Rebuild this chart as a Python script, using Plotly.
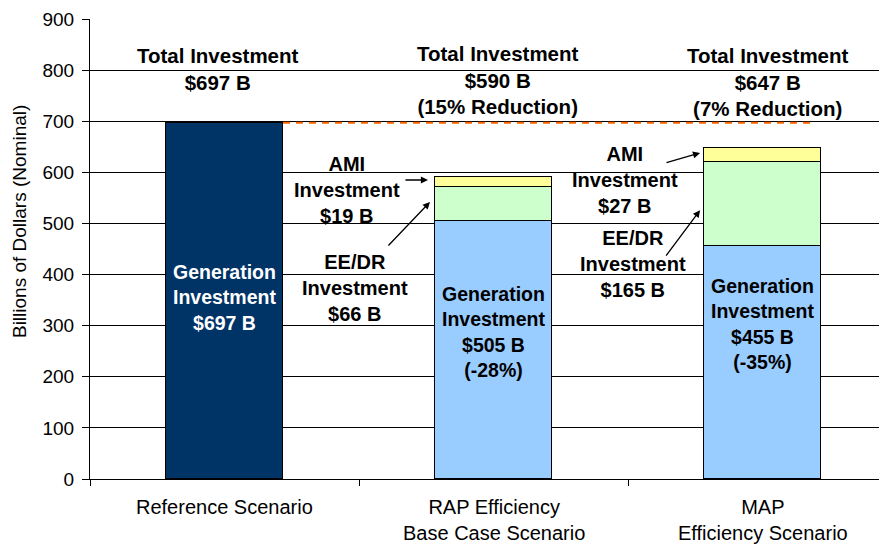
import plotly.graph_objects as go

# ---- data ----
categories = ["Reference Scenario", "RAP Efficiency<br>Base Case Scenario", "MAP<br>Efficiency Scenario"]
generation = [697, 505, 455]
ee_dr = [None, 66, 165]
ami = [None, 19, 27]
totals = [697, 590, 647]
reduction_pct = [None, 15, 7]
gen_change_pct = [None, -28, -35]
y_ticks = [0, 100, 200, 300, 400, 500, 600, 700, 800, 900]

FONT = "Liberation Sans, Arial, sans-serif"
BAR_W = 0.435
xpos = list(range(len(categories)))

gen_colors = ["#003366", "#99CCFF", "#99CCFF"]

fig = go.Figure()
fig.add_trace(go.Bar(x=xpos, y=generation, width=BAR_W, name="Generation",
                     marker=dict(color=gen_colors, line=dict(color="#000000", width=1))))
fig.add_trace(go.Bar(x=xpos, y=ee_dr, width=BAR_W, name="EE/DR",
                     marker=dict(color="#CCFFCC", line=dict(color="#000000", width=1))))
fig.add_trace(go.Bar(x=xpos, y=ami, width=BAR_W, name="AMI",
                     marker=dict(color="#FFFF99", line=dict(color="#000000", width=1))))

# dashed reference line at the reference total
fig.add_trace(go.Scatter(x=[xpos[0] + BAR_W / 2, xpos[2] + BAR_W / 2 - 0.02], y=[totals[0], totals[0]],
                         mode="lines", line=dict(color="#FF6600", width=2.2, dash="7px,6px"),
                         hoverinfo="skip"))

annotations = []

# Total investment labels
top_pos = [(-0.024, 803), (1.017, 780), (2.019, 776)]
for i, t in enumerate(totals):
    txt = f"<b>Total Investment<br>${t} B"
    if reduction_pct[i] is not None:
        txt += f"<br>({reduction_pct[i]}% Reduction)"
    txt += "</b>"
    annotations.append(dict(x=top_pos[i][0], y=top_pos[i][1], xref="x", yref="y", text=txt,
                            showarrow=False, font=dict(family=FONT, size=20.5, color="#000000"),
                            xanchor="center", yanchor="middle", align="center"))

# Generation labels inside bars
bar_lbl_y = [356, 288, 303]
for i, g in enumerate(generation):
    txt = f"<b>Generation<br>Investment<br>${g} B"
    if gen_change_pct[i] is not None:
        txt += f"<br>({gen_change_pct[i]}%)"
    txt += "</b>"
    annotations.append(dict(x=xpos[i], y=bar_lbl_y[i], xref="x", yref="y", text=txt,
                            showarrow=False,
                            font=dict(family=FONT, size=19.5, color="#FFFFFF" if i == 0 else "#000000"),
                            xanchor="center", yanchor="middle", align="center"))

# side labels for AMI and EE/DR
side = [
    (0.455, 565, f"<b>AMI<br>Investment<br>${ami[1]} B</b>"),
    (0.485, 374, f"<b>EE/DR<br>Investment<br>${ee_dr[1]} B</b>"),
    (1.489, 585, f"<b>AMI<br>Investment<br>${ami[2]} B</b>"),
    (1.519, 421, f"<b>EE/DR<br>Investment<br>${ee_dr[2]} B</b>"),
]
for x, y, txt in side:
    annotations.append(dict(x=x, y=y, xref="x", yref="y", text=txt, showarrow=False,
                            font=dict(family=FONT, size=20, color="#000000"),
                            xanchor="center", yanchor="middle", align="center"))

# arrows (head x,y ; tail ax,ay)
arrows = [
    (0.7565, 585, 0.667, 585),
    (0.764, 542, 0.604, 454),
    (1.768, 638, 1.6375, 618),
    (1.768, 526, 1.6375, 434),
]
for x, y, ax, ay in arrows:
    annotations.append(dict(x=x, y=y, ax=ax, ay=ay, xref="x", yref="y", axref="x", ayref="y",
                            text="", showarrow=True, arrowhead=2, arrowsize=1.1, arrowwidth=1.3,
                            arrowcolor="#000000"))

# category labels
for i, c in enumerate(categories):
    annotations.append(dict(x=xpos[i], y=0, xref="x", yref="paper", text=c, showarrow=False,
                            font=dict(family=FONT, size=20, color="#000000"),
                            xanchor="center", yanchor="top", align="center", yshift=-15))

# y-axis title
annotations.append(dict(x=-0.0878, y=0.5587, xref="paper", yref="paper",
                        text="Billions of Dollars (Nominal)", textangle=-90, showarrow=False,
                        font=dict(family=FONT, size=19, color="#000000"),
                        xanchor="center", yanchor="middle"))

# page body has an 8px default margin: figure is 8px smaller and margins shifted accordingly
fig.update_layout(
    width=879, height=537,
    margin=dict(l=82, r=0, t=11, b=66, pad=0),
    paper_bgcolor="#FFFFFF", plot_bgcolor="#FFFFFF",
    barmode="stack", bargap=0, showlegend=False,
    annotations=annotations,
    font=dict(family=FONT, size=19, color="#000000"),
)
fig.update_xaxes(range=[-0.5, -0.5 + 797 / 269], tickvals=[-0.5, 0.5, 1.5, 2.5],
                 ticktext=["", "", "", ""], ticks="outside", ticklen=6, tickcolor="#000000",
                 showgrid=False, zeroline=False, showline=True, linecolor="#000000", linewidth=1)
fig.update_yaxes(range=[0, 900], tickvals=y_ticks, ticks="outside", ticklen=7,
                 tickcolor="#000000", showgrid=True, gridcolor="#000000", gridwidth=1,
                 zeroline=False, showline=True, linecolor="#000000", linewidth=1,
                 tickfont=dict(family=FONT, size=19, color="#000000"), ticklabelstandoff=4)

fig.write_html("out.html")
